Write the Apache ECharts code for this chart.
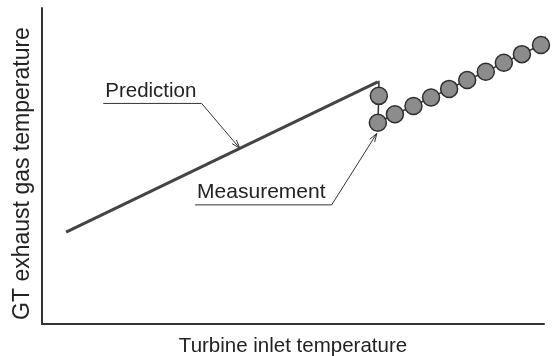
<!DOCTYPE html>
<html>
<head>
<meta charset="utf-8">
<script src="https://cdn.jsdelivr.net/npm/echarts@6/dist/echarts.min.js"></script>
<style>
  html, body { margin: 0; padding: 0; background: #fff; }
  #chart { width: 553px; height: 356px; }
</style>
</head>
<body>
<div id="chart"></div>
<script>
// values, axes have no units (0..100 both ways)
const predictionX = [4.8, 66.9];
const predictionY = [29.1, 76.6];

// first and last entries are only line (connector up to prediction, tail to the right)
const measurementX = [67.1, 67.1, 66.9, 70.3, 74.0, 77.5, 81.1, 84.7, 88.4, 92.0, 95.6, 99.4, 100.8];
const measurementY = [77.0, 72.2, 63.7, 66.4, 69.0, 71.7, 74.4, 77.2, 79.8, 82.7, 85.4, 88.3, 91.8];

// annotation anchors in data space: [textStartX, underlineEndX, underlineY, tipX, tipY]
const labelNames = ['Prediction', 'Measurement'];
const labelAnchors = [
  [12.2, 31.8, 69.8, 39.4, 55.6],
  [30.5, 57.7, 37.7, 66.7, 60.3]
];

const font = "'Liberation Sans', Arial, Helvetica, sans-serif";
const ink = '#333';

const chart = echarts.init(document.getElementById('chart'));

const axisCommon = {
  type: 'value',
  min: 0,
  max: 100,
  nameLocation: 'middle',
  axisLine: { show: true, lineStyle: { color: ink, width: 2 } },
  axisTick: { show: false },
  axisLabel: { show: false },
  splitLine: { show: false }
};

chart.setOption({
  animation: false,
  grid: { left: 42, right: 9, top: 8, bottom: 32, containLabel: false, outerBoundsMode: 'none' },
  xAxis: Object.assign({}, axisCommon, {
    name: 'Turbine inlet temperature',
    nameGap: 12,
    nameTextStyle: { fontFamily: font, fontSize: 20.5, color: '#222' }
  }),
  yAxis: Object.assign({}, axisCommon, {
    name: 'GT exhaust gas temperature',
    nameGap: 8,
    nameTextStyle: { fontFamily: font, fontSize: 23, color: '#222', padding: [0, 15, 0, 0] }
  }),
  series: [
    {
      name: 'Prediction',
      type: 'line',
      data: predictionX.map((x, i) => [x, predictionY[i]]),
      symbol: 'none',
      lineStyle: { color: '#444', width: 3 }
    },
    {
      name: 'Measurement',
      type: 'line',
      clip: false,
      data: measurementX.map((x, i) => {
        const last = i === 0 || i === measurementX.length - 1;
        return last ? { value: [x, measurementY[i]], symbol: 'none' } : [x, measurementY[i]];
      }),
      symbol: 'circle',
      symbolSize: 17,
      showAllSymbol: true,
      itemStyle: { color: '#8c8c8c', borderColor: '#2e2e2e', borderWidth: 1.5 },
      lineStyle: { color: ink, width: 1.5 },
      z: 3
    }
  ]
});

// leader lines with open arrow heads
function drawLabels() {
  const elements = [];
  labelAnchors.forEach((a, i) => {
    const p0 = chart.convertToPixel({ gridIndex: 0 }, [a[0], a[2]]);
    const p1 = chart.convertToPixel({ gridIndex: 0 }, [a[1], a[2]]);
    const tip = chart.convertToPixel({ gridIndex: 0 }, [a[3], a[4]]);
    const ang = Math.atan2(tip[1] - p1[1], tip[0] - p1[0]);
    const len = 9, spread = 0.32;
    const h1 = [tip[0] - len * Math.cos(ang - spread), tip[1] - len * Math.sin(ang - spread)];
    const h2 = [tip[0] - len * Math.cos(ang + spread), tip[1] - len * Math.sin(ang + spread)];
    elements.push({
      type: 'text',
      style: {
        text: labelNames[i],
        x: p0[0] + 2,
        y: p0[1] - 2,
        textVerticalAlign: 'bottom',
        font: (i === 0 ? 20.5 : 21) + 'px ' + font,
        fill: '#222'
      }
    });
    elements.push({
      type: 'polyline',
      shape: { points: [p0, p1, tip] },
      style: { stroke: ink, lineWidth: 1, fill: null }
    });
    elements.push({
      type: 'polyline',
      shape: { points: [h1, tip, h2] },
      style: { stroke: ink, lineWidth: 1, fill: null }
    });
  });
  chart.setOption({ graphic: elements });
}
drawLabels();

window.addEventListener('resize', () => { chart.resize(); drawLabels(); });
</script>
</body>
</html>
